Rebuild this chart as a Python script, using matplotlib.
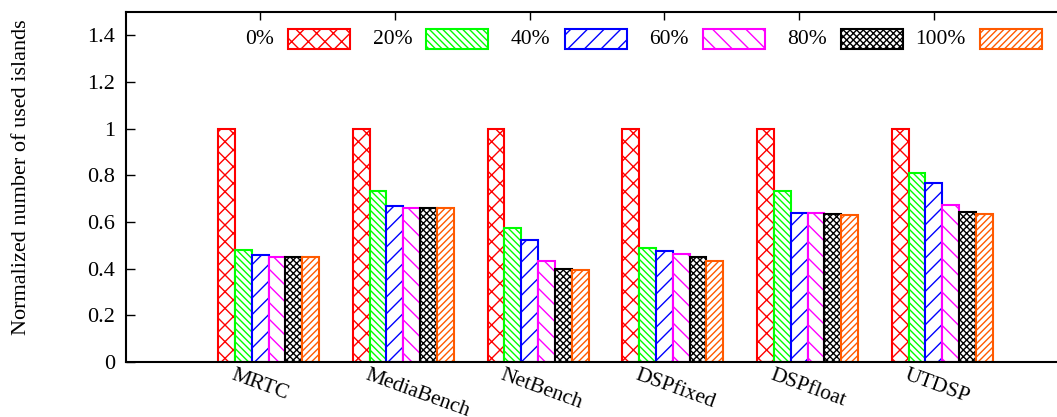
import numpy as np
import matplotlib
matplotlib.use("Agg")
import matplotlib.pyplot as plt
from matplotlib.patches import Rectangle

plt.rcParams['font.family'] = ['Liberation Serif', 'DejaVu Serif']
plt.rcParams['hatch.linewidth'] = 1.0

benchmarks = ["MRTC", "MediaBench", "NetBench", "DSPfixed", "DSPfloat", "UTDSP"]
series_labels = ["0%", "20%", "40%", "60%", "80%", "100%"]
values = [
    [1.0, 1.0, 1.0, 1.0, 1.0, 1.0],            # 0%
    [0.482, 0.732, 0.574, 0.487, 0.731, 0.812],  # 20%
    [0.458, 0.668, 0.524, 0.477, 0.639, 0.768],  # 40%
    [0.452, 0.661, 0.435, 0.462, 0.639, 0.672],  # 60%
    [0.452, 0.661, 0.400, 0.448, 0.635, 0.641],  # 80%
    [0.452, 0.661, 0.395, 0.435, 0.632, 0.636],  # 100%
]
colors = ["#ff0000", "#00ff00", "#0000ff", "#ff00ff", "#000000", "#ff5a00"]
hatches = ["xx", "\\\\\\\\\\", "//", "\\\\", "xxxxx", "/////"]
ytick_vals = [0, 0.2, 0.4, 0.6, 0.8, 1.0, 1.2, 1.4]
ytick_labels = ["0", "0.2", "0.4", "0.6", "0.8", "1", "1.2", "1.4"]

W, H = 1057, 417
fig = plt.figure(figsize=(W / 100, H / 100), dpi=100)
# axes box in pixels: left 126, bottom 362, top 12, right off-image
ax = fig.add_axes([126 / W, (H - 362) / H, (1077 - 126) / W, 350 / H])

x = np.arange(len(benchmarks))
bw = 0.125
for i, vals in enumerate(values):
    off = -0.375 + (i + 0.5) * bw
    ax.bar(x + off, vals, bw, facecolor="white", edgecolor=colors[i],
           hatch=hatches[i], linewidth=1.5, zorder=2)

ax.set_xlim(-1.058, 6.0)
ax.set_ylim(0, 1.5)
ax.set_yticks(ytick_vals)
ax.set_yticklabels(ytick_labels, fontsize=16)
ax.set_xticks(x - 0.0625)
ax.set_xticklabels([])
ax.tick_params(axis="y", direction="in", length=6.5, width=1, pad=8, right=False)
ax.tick_params(axis="x", direction="in", length=6, width=1, top=True)
ax.set_axisbelow(True)
for s in ax.spines.values():
    s.set_linewidth(1.5)

for i, name in enumerate(benchmarks):
    ax.text(i - 0.25, -0.01, name, transform=ax.get_xaxis_transform(),
            rotation=-20, rotation_mode="anchor", ha="left", va="top",
            fontsize=15.5)

fig.text(22 / W, 1 - 177 / H, "Normalized number of used islands",
         rotation=90, ha="center", va="center", fontsize=16)

# legend drawn by hand, gnuplot style: label then sample box
for i, lab in enumerate(series_labels):
    bx = 288 + 138.3 * i
    fig.patches.append(Rectangle((bx / W, 1 - 48.5 / H), 62 / W, 19.5 / H,
                                 transform=fig.transFigure, facecolor="white",
                                 edgecolor=colors[i], hatch=hatches[i],
                                 linewidth=1.5))
    fig.text((bx - 14) / W, 1 - 39 / H, lab, ha="right", va="center", fontsize=15.5)

fig.savefig("out.png", dpi=100)
